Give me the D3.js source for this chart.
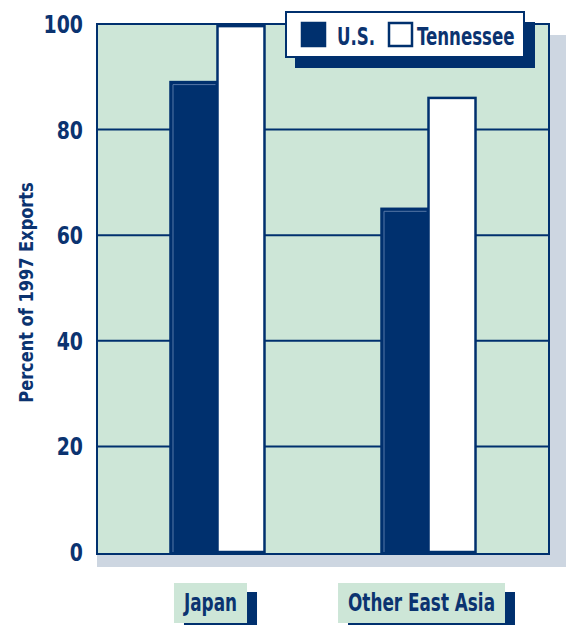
<!DOCTYPE html>
<html>
<head>
<meta charset="utf-8">
<script src="https://cdn.jsdelivr.net/npm/d3@7"></script>
<style>
  html, body { margin: 0; padding: 0; background: #fff; }
  svg { display: block; }
  text { font-family: "Liberation Sans Narrow", "DejaVu Sans Condensed", "Roboto", sans-serif; font-weight: bold; fill: #0b3370; }
</style>
</head>
<body>
<svg id="chart" width="566" height="625"></svg>
<script>
const categories = ["Japan", "Other East Asia"];
const seriesNames = ["U.S.", "Tennessee"];
const usValues = [89, 65];
const tennesseeValues = [99.6, 86];
const yTicks = [0, 20, 40, 60, 80, 100];
const yTitle = "Percent of 1997 Exports";

const navy = "#00306e";
const plotFill = "#cde6d7";
const shadowFill = "#cdd6e1";

// condensed look: squeeze text to a width factor of its natural size
function squeeze(sel, factor) {
  sel.each(function() {
    const w = this.getComputedTextLength();
    d3.select(this).attr("textLength", w * factor).attr("lengthAdjust", "spacingAndGlyphs");
  });
}

const svg = d3.select("#chart");
const plot = { left: 97, right: 549, top: 24, bottom: 554 };

const y = d3.scaleLinear().domain([0, 100]).range([552, 24]);
const x = d3.scalePoint().domain(categories).range([plot.left, plot.right]).padding(0.571);
const inner = d3.scaleBand().domain(seriesNames).range([-47, 47]).padding(0);

// plot shadow
svg.append("rect").attr("x", plot.left).attr("y", plot.top + 11)
  .attr("width", 566 - plot.left).attr("height", plot.bottom - plot.top + 2)
  .attr("fill", shadowFill);
// plot background
svg.append("rect").attr("x", plot.left).attr("y", plot.top)
  .attr("width", plot.right - plot.left).attr("height", plot.bottom - plot.top)
  .attr("fill", plotFill);

// gridlines
svg.append("g").selectAll("line").data(yTicks.filter(d => d > 0 && d < 100)).join("line")
  .attr("x1", plot.left).attr("x2", plot.right)
  .attr("y1", d => y(d)).attr("y2", d => y(d))
  .attr("stroke", navy).attr("stroke-width", 2);

// border
svg.append("rect").attr("x", plot.left).attr("y", plot.top)
  .attr("width", plot.right - plot.left).attr("height", plot.bottom - plot.top)
  .attr("fill", "none").attr("stroke", navy).attr("stroke-width", 2);

// bars
const data = categories.map((c, i) => ({ c, vals: [usValues[i], tennesseeValues[i]] }));
const g = svg.append("g").selectAll("g").data(data).join("g")
  .attr("transform", d => `translate(${x(d.c)},0)`);
g.each(function(d) {
  const gg = d3.select(this);
  seriesNames.forEach((s, j) => {
    const v = d.vals[j];
    const bx = inner(s), bw = inner.bandwidth();
    gg.append("rect").attr("x", bx).attr("y", y(v))
      .attr("width", bw).attr("height", y(0) - y(v))
      .attr("fill", j === 0 ? navy : "#fff")
      .attr("stroke", navy).attr("stroke-width", 2.5);
    if (j === 0) {
      gg.append("path")
        .attr("d", `M${bx + 2.5},${y(0)} V${y(v) + 2.5} H${bx + bw - 2}`)
        .attr("fill", "none").attr("stroke", "#5577a6").attr("stroke-width", 1);
    }
  });
});

// y tick labels
svg.append("g").selectAll("text").data(yTicks).join("text")
  .attr("x", 83).attr("y", d => y(d)).attr("dy", "0.36em")
  .attr("text-anchor", "end").attr("font-size", 25).text(d => d)
  .call(squeeze, 0.84);

// y title
svg.append("text").attr("transform", `translate(33,${(183 + 402) / 2}) rotate(-90)`)
  .attr("text-anchor", "middle").attr("font-size", 20).text(yTitle)
  .call(squeeze, 0.9);

// category labels
const labG = svg.append("g").selectAll("g").data(categories).join("g")
  .attr("transform", d => `translate(${x(d) - 7},0)`);
labG.each(function(d) {
  const gg = d3.select(this);
  const t = gg.append("text").attr("x", 0).attr("y", 611).attr("text-anchor", "middle")
    .attr("font-size", 24).text(d).call(squeeze, 0.78);
  const w = +t.attr("textLength") + 20;
  gg.insert("rect", "text").attr("x", -w / 2 + 10).attr("y", 592).attr("width", w).attr("height", 33).attr("fill", navy);
  gg.insert("rect", "text").attr("x", -w / 2).attr("y", 583).attr("width", w).attr("height", 40).attr("fill", plotFill);
});

// legend
const leg = svg.append("g");
leg.append("rect").attr("x", 295).attr("y", 22).attr("width", 240).attr("height", 46).attr("fill", navy);
leg.append("rect").attr("x", 286).attr("y", 12).attr("width", 238).attr("height", 45)
  .attr("fill", "#fff").attr("stroke", navy).attr("stroke-width", 2);
const legItems = [{ name: seriesNames[0], sx: 302, tx: 337, fill: navy }, { name: seriesNames[1], sx: 389, tx: 417, fill: "#fff" }];
legItems.forEach(it => {
  leg.append("rect").attr("x", it.sx).attr("y", 23).attr("width", 23).attr("height", 23)
    .attr("fill", it.fill).attr("stroke", navy).attr("stroke-width", 2.5);
  leg.append("text").attr("x", it.tx).attr("y", 45).attr("font-size", 25).text(it.name)
    .call(squeeze, 0.74);
});
</script>
</body>
</html>
